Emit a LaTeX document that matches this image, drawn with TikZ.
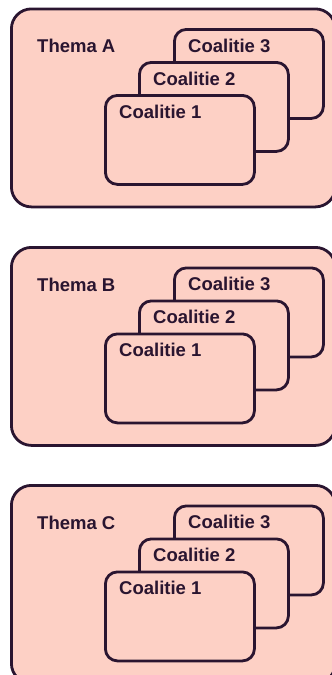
\documentclass[tikz,border=0pt]{standalone}
\usepackage{fontspec}
\setmainfont{Liberation Sans}
\usetikzlibrary{calc,positioning}
\definecolor{zalm}{HTML}{FDD0C5}
\definecolor{inkt}{HTML}{2A1530}
\tikzset{
    thema/.style={draw=inkt, fill=zalm, line width=2.8pt, rounded corners=20pt,
        minimum width=324pt, minimum height=198pt, inner sep=0pt, anchor=north west},
    coalitie/.style={draw=inkt, fill=zalm, line width=2.8pt, rounded corners=12pt,
        minimum width=149pt, minimum height=89pt, inner sep=0pt, anchor=north west},
    kop/.style={font=\bfseries\fontsize{18.5}{20}\selectfont, text=inkt, inner sep=0pt, anchor=west}
}

\begin{document}
\begin{tikzpicture}[x=1pt, y=-1pt]
    \useasboundingbox (0, 0) rectangle (332, 675);
    \clip (0, 0) rectangle (332, 675);
    % one theme block, three stacked coalitions in each
    \foreach \t/\naam in {7.5/A, 246/B, 484/C} {
        \node[thema] (thema\naam) at (10, \t) {};
        \node[kop] (kop\naam) at ($(thema\naam.north west) + (27, 38.5)$) {Thema \naam};
        \foreach \k/\dx/\dy in {3/163/20.5, 2/128/53.5, 1/94/86.5} {
            \node[coalitie] (coal\naam\k) at ($(thema\naam.north west) + (\dx, \dy)$) {};
            \node[kop] (tekst\naam\k) at ($(coal\naam\k.north west) + (15, 17.5)$) {Coalitie \k};
        }
    }
\end{tikzpicture}
\end{document}
